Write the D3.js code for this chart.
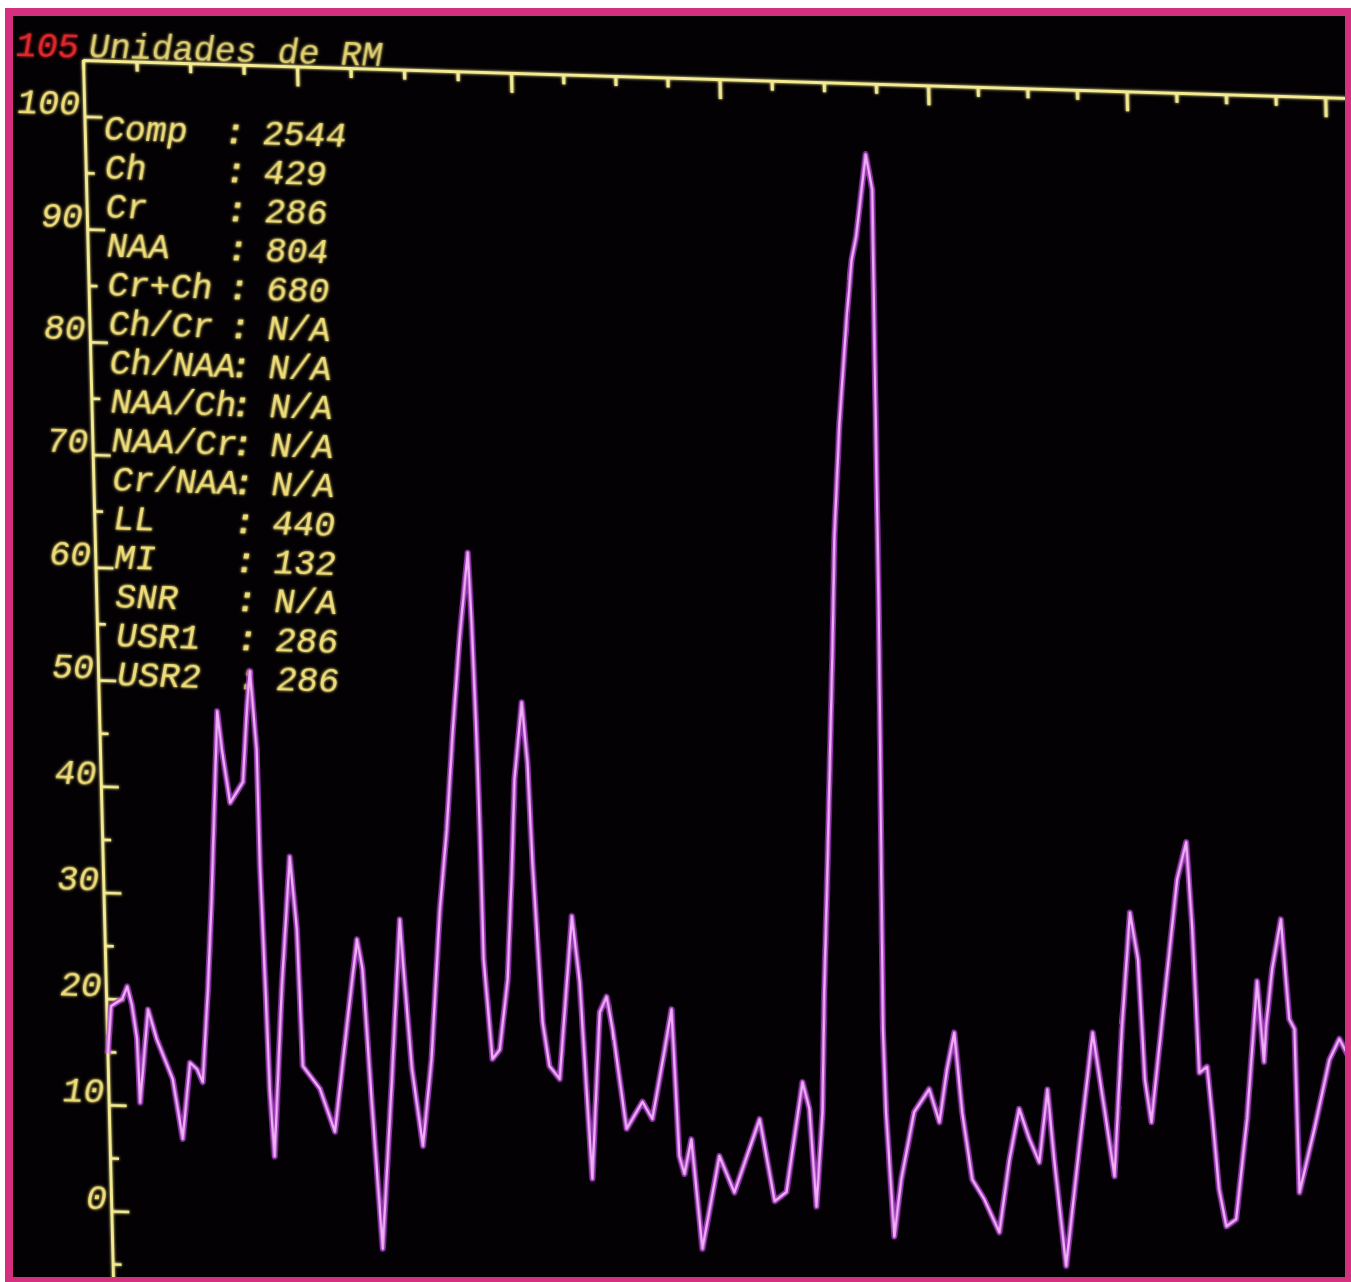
<!DOCTYPE html>
<html>

<head>
  <title>Espectro RM</title>
  <meta charset="utf-8" />
  <script src="https://d3js.org/d3.v7.min.js"></script>
  <style>
    body {
      margin: 0;
      background: #fff;
    }

    text {
      font-family: "Liberation Mono", "DejaVu Sans Mono", monospace;
      font-style: italic;
    }
  </style>
</head>

<body>

  <svg id="p1" width="1351" height="1282"></svg>

  <script>
    // spectrum: [x in axis tick units, y in "Unidades de RM"]
    const spectrum = [
      [0.01, 14.8], [0.09, 19.3], [0.30, 20.0], [0.40, 21.2], [0.48, 19.5], [0.56, 16.3], [0.59, 10.3],
      [0.78, 19.1], [0.93, 16.3], [1.21, 12.6], [1.37, 7.0], [1.54, 14.2], [1.67, 13.6], [1.77, 12.4],
      [1.91, 21.2], [2.02, 29.7], [2.21, 47.4], [2.28, 43.8], [2.41, 38.8], [2.66, 40.8], [2.77, 47.9],
      [2.84, 51.2], [2.93, 43.9], [2.94, 32.9], [2.99, 20.4], [3.02, 11.9], [3.08, 5.6], [3.29, 21.4],
      [3.50, 33.9], [3.60, 27.1], [3.65, 14.2], [3.96, 12.1], [4.22, 8.1], [4.56, 20.6], [4.72, 26.3],
      [4.81, 23.5], [4.92, 11.3], [5.06, -2.8], [5.31, 13.2], [5.53, 28.3], [5.57, 24.3], [5.69, 14.2],
      [5.86, 7.0], [6.06, 15.2], [6.28, 29.1], [6.45, 36.9], [6.61, 46.3], [6.78, 54.8], [6.97, 62.3],
      [7.01, 56.1], [7.05, 45.7], [7.07, 37.0], [7.08, 24.8], [7.20, 15.4], [7.34, 16.3], [7.52, 22.9],
      [7.65, 33.3], [7.74, 41.8], [7.91, 49.1], [7.99, 43.4], [8.04, 34.0], [8.16, 19.0], [8.27, 14.9],
      [8.46, 13.7], [8.61, 21.2], [8.77, 29.1], [8.89, 22.9], [8.97, 12.8], [9.04, 4.4], [9.26, 20.1],
      [9.40, 21.6], [9.50, 18.5], [9.72, 9.2], [10.04, 11.8], [10.22, 10.2], [10.49, 16.8], [10.64, 20.6],
      [10.72, 6.8], [10.81, 5.1], [10.96, 8.4], [11.12, -1.9], [11.49, 6.9], [11.76, 3.5], [12.28, 10.5],
      [12.53, 2.8], [12.76, 3.7], [13.12, 14.1], [13.24, 11.6], [13.33, 2.4], [13.49, 11.3], [13.58, 22.6],
      [13.69, 33.3], [13.90, 54.7], [13.99, 64.7], [14.14, 74.8], [14.32, 83.7], [14.45, 89.3], [14.55, 91.4],
      [14.77, 98.7], [14.88, 95.6], [14.85, 81.7], [14.83, 71.4], [14.81, 59.5], [14.77, 45.7], [14.73, 33.4],
      [14.69, 19.3], [14.71, 11.5], [14.81, -0.2], [14.97, 5.2], [15.25, 11.6], [15.55, 13.8], [15.73, 10.7],
      [15.90, 15.7], [16.06, 19.2], [16.18, 11.7], [16.35, 5.4], [16.58, 3.6], [16.87, 0.5], [17.11, 7.4],
      [17.33, 12.2], [17.52, 9.4], [17.71, 7.2], [17.91, 14.1], [18.01, 7.6], [18.20, -2.5], [18.52, 8.6],
      [18.85, 19.6], [19.05, 12.4], [19.22, 6.1], [19.44, 20.0], [19.66, 31.0], [19.80, 26.6], [19.88, 15.3],
      [19.99, 11.3], [20.31, 22.9], [20.63, 34.3], [20.83, 37.8], [20.91, 29.6], [20.98, 16.1], [21.14, 16.7],
      [21.22, 12.0], [21.32, 5.2], [21.45, 1.7], [21.65, 2.4], [21.92, 11.9], [22.19, 24.9], [22.29, 17.3],
      [22.35, 20.7], [22.50, 26.1], [22.70, 30.8], [22.82, 21.4], [22.92, 20.5], [22.94, 5.1], [23.27, 11.1],
      [23.61, 17.7], [23.82, 19.7], [23.99, 18.1]
    ];

    const statNames = ["Comp", "Ch", "Cr", "NAA", "Cr+Ch", "Ch/Cr", "Ch/NAA", "NAA/Ch",
      "NAA/Cr", "Cr/NAA", "LL", "MI", "SNR", "USR1", "USR2"];
    const statValues = ["2544", "429", "286", "804", "680", "N/A", "N/A", "N/A",
      "N/A", "N/A", "440", "132", "N/A", "286", "286"];

    const yMajor = [0, 10, 20, 30, 40, 50, 60, 70, 80, 90, 100];
    const yMinor = [-5, 5, 15, 25, 35, 45, 55, 65, 75, 85, 95];
    const xMinor = [0, 1, 2, 3, 5, 6, 7, 9, 10, 11, 13, 14, 15, 17, 18, 19, 21, 22, 23];
    const xMajor = [4, 8, 12, 16, 20, 24];
    const yTop = 105;
    const yTitle = "Unidades de RM";

    const svg = d3.select("#p1");
    const yellow = "#eedc78";
    const axisYellow = "#f4ea92";

    // soft phosphor glow
    const glow = svg.append("defs").append("filter").attr("id", "glow")
      .attr("x", "-5%").attr("y", "-5%").attr("width", "110%").attr("height", "110%");
    glow.append("feGaussianBlur").attr("stdDeviation", 1.6).attr("result", "b");
    const merge = glow.append("feMerge");
    merge.append("feMergeNode").attr("in", "b");
    merge.append("feMergeNode").attr("in", "SourceGraphic");

    // photo frame
    svg.append("rect").attr("x", 5).attr("y", 8).attr("width", 1346).attr("height", 1274)
      .attr("fill", "#d4307f");
    svg.append("rect").attr("x", 13).attr("y", 16).attr("width", 1332).attr("height", 1261)
      .attr("fill", "#030103");

    svg.append("clipPath").attr("id", "screen")
      .append("rect").attr("x", 13).attr("y", 16).attr("width", 1332).attr("height", 1261);

    // the screen was photographed at a slight angle, so the plot frame is sheared
    const plot = svg.append("g").attr("clip-path", "url(#screen)")
      .append("g").attr("transform", "matrix(1,0.03,0.0246,1,83,60)");

    // perspective makes the divisions slightly uneven, hence the piecewise scales
    const xScale = d3.scaleLinear().domain([0, 8, 16, 24.4]).range([0, 428, 845, 1262]);
    const yScale = d3.scaleLinear().domain([-7, 0, 50, yTop]).range([1225, 1151, 620, 0]);

    const styleAxis = (g, w) => {
      g.selectAll("path, line").attr("stroke", axisYellow).attr("stroke-width", w);
    };

    const axes = plot.append("g").attr("filter", "url(#glow)");

    axes.append("g")
      .call(d3.axisTop(xScale).tickValues(xMinor).tickSizeInner(-10).tickSizeOuter(0).tickFormat(""))
      .call(g => styleAxis(g, 3.2));
    axes.append("g")
      .call(d3.axisTop(xScale).tickValues(xMajor).tickSizeInner(-20).tickSizeOuter(0).tickFormat(""))
      .call(g => styleAxis(g, 3.2));

    axes.append("g")
      .call(d3.axisLeft(yScale).tickValues(yMinor).tickSizeInner(-9).tickSizeOuter(0).tickFormat(""))
      .call(g => styleAxis(g, 2.6));
    axes.append("g")
      .call(d3.axisLeft(yScale).tickValues(yMajor).tickSizeInner(-18).tickSizeOuter(0).tickPadding(4))
      .call(g => styleAxis(g, 2.6))
      .call(g => g.selectAll("text")
        .attr("fill", yellow)
        .attr("font-size", 35)
        .attr("font-family", "Liberation Mono")
        .attr("dy", "-0.06em"));

    axes.append("text")
      .attr("x", -4).attr("y", -2)
      .attr("text-anchor", "end")
      .attr("font-size", 35)
      .attr("fill", "#e3282c")
      .text(yTop);

    axes.append("text")
      .attr("x", 6).attr("y", -3)
      .attr("font-size", 35)
      .attr("fill", yellow)
      .attr("opacity", 0.85)
      .text(yTitle);

    // readout table
    const rows = axes.append("g").selectAll("g").data(statNames)
      .join("g")
      .attr("transform", (d, i) => "translate(0," + (79 + 39 * i) + ")")
      .attr("font-size", 35)
      .attr("fill", yellow);
    rows.append("text").attr("x", 19).text(d => d);
    rows.append("text").attr("x", 150).attr("text-anchor", "middle").attr("font-weight", "bold").text(":");
    rows.append("text").attr("x", 178).text((d, i) => statValues[i]);

    // spectrum trace
    const lineGen = d3.line()
      .x(d => xScale(d[0]))
      .y(d => yScale(d[1]));

    plot.append("path").datum(spectrum)
      .attr("fill", "none")
      .attr("stroke", "#b340d6")
      .attr("stroke-width", 6)
      .attr("stroke-linejoin", "round")
      .attr("opacity", 0.8)
      .attr("d", lineGen);

    plot.append("path").datum(spectrum)
      .attr("fill", "none")
      .attr("stroke", "#f0aef5")
      .attr("stroke-width", 2.4)
      .attr("stroke-linejoin", "round")
      .attr("d", lineGen);
  </script>
</body>

</html>
